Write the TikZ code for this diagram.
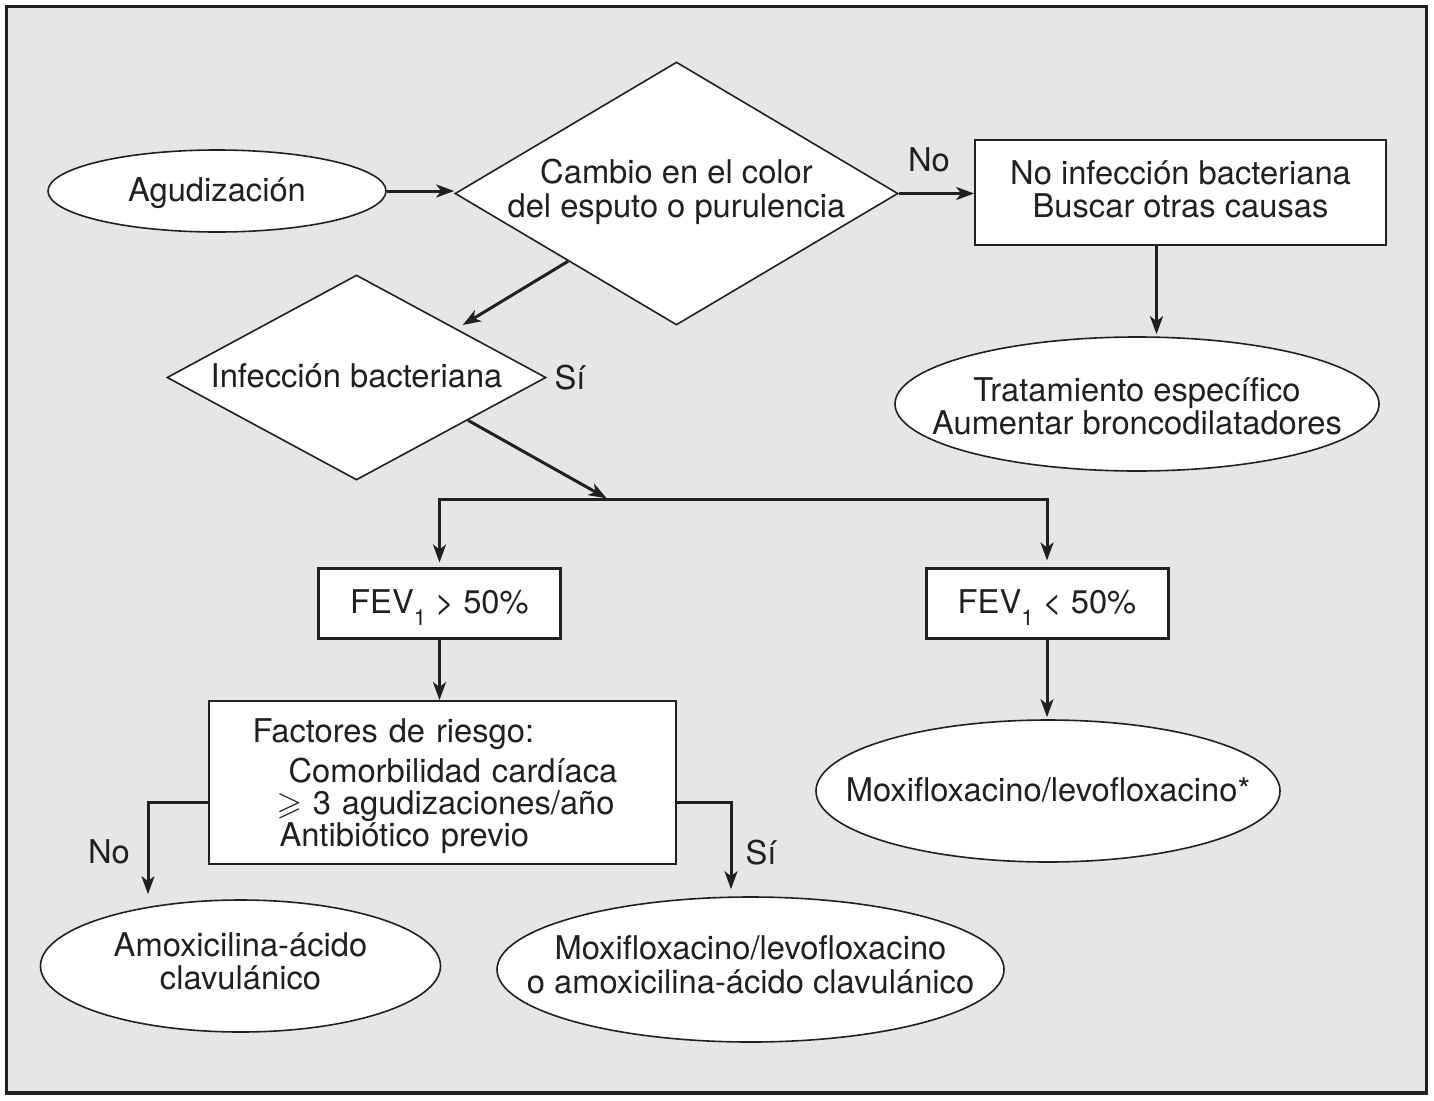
\documentclass[tikz,border=0pt]{standalone}
\usepackage{fontspec}
\setmainfont{TeX Gyre Heros}
\usepackage{amssymb}
\usetikzlibrary{shapes.geometric,arrows.meta}
\definecolor{ink}{HTML}{231F20}
\definecolor{panel}{HTML}{E6E6E6}
\newcommand{\inshape}[2][0pt]{\makebox[0pt]{\raisebox{-#1}[\height][\depth]{\begin{tabular}{@{}c@{}}#2\end{tabular}}}}
\newcommand{\fevsub}{\raisebox{-12pt}[0pt][0pt]{\fontsize{22}{22}\selectfont 1}}

\begin{document}
\begin{tikzpicture}[x=1pt,y=-1pt,font=\fontsize{32.7}{33}\selectfont,text=ink]
        \tikzset{oval/.style={ellipse,draw=ink,line width=1.6pt,fill=white,inner sep=0pt},
          choice/.style={diamond,draw=ink,line width=1.6pt,fill=white,inner sep=0pt},
          box/.style={rectangle,draw=ink,line width=1.8pt,fill=white,align=center},
          fevbox/.style={box,line width=3pt,minimum width=242pt,minimum height=70pt},
          arr/.style={draw=ink,line width=3pt,-{Stealth[length=18pt,width=13pt,inset=5pt]}},
          lbl/.style={inner sep=0pt}}
        \useasboundingbox (0,0) rectangle (1434,1100);
        \draw[ink,line width=3.5pt,fill=panel] (6.5,6.5) rectangle (1426.5,1093);
        % nodes
        \node[oval,minimum width=338pt,minimum height=82pt] (agud) at (217,191) {\inshape[4pt]{Agudización}};
        \node[choice,minimum width=443pt,minimum height=263pt] (cambio) at (676.5,193.5)
          {\inshape{Cambio en el color\\del esputo o purulencia}};
        \node[box,minimum width=411pt,minimum height=105pt] (nobact) at (1180.5,192.5)
          {No infección bacteriana\\Buscar otras causas\rule[-6pt]{0pt}{6pt}};
        \node[oval,minimum width=484pt,minimum height=134pt] (trat) at (1137,404)
          {\inshape[7pt]{Tratamiento específico\\Aumentar broncodilatadores}};
        \node[choice,minimum width=379pt,minimum height=205pt] (infec) at (356.5,377.5)
          {\inshape[3pt]{Infección bacteriana}};
        \node[fevbox] (fevA) at (439.5,603) {FEV\fevsub{} > 50\%};
        \node[fevbox] (fevB) at (1047,603) {FEV\fevsub{} < 50\%};
        \node[box,text width=380pt,inner xsep=43.5pt,minimum height=163pt,align=left,
          font=\fontsize{32.7}{32}\selectfont] (riesgo) at (442.5,782.5)
          {\rule{0pt}{31pt}Factores de riesgo:\\[8pt]
           \hspace*{36pt}Comorbilidad cardíaca\\
           \hspace*{24pt}$\geqslant$ 3 agudizaciones/año\\
           \hspace*{27pt}Antibiótico previo};
        \node[oval,minimum width=400pt,minimum height=132pt] (amox) at (240.5,966)
          {\inshape{Amoxicilina-ácido\\clavulánico}};
        \node[oval,minimum width=507pt,minimum height=145pt] (moxiB) at (750.5,969.5)
          {\inshape{Moxifloxacino/levofloxacino\\o amoxicilina-ácido clavulánico}};
        \node[oval,minimum width=464pt,minimum height=142pt] (moxiA) at (1048,791)
          {\inshape[3pt]{Moxifloxacino/levofloxacino*}};
        % labels
        \node[lbl] (siA) at (570,378) {Sí};
        \node[lbl] (noA) at (929,160) {No};
        \node[lbl] (noB) at (109,852) {No};
        \node[lbl] (siB) at (761,853) {Sí};
        % connectors
        \coordinate (split) at (608,499);
        \draw[arr] (agud.east) -- (agud.east -| cambio.west);
        \draw[arr] (cambio.east) -- (cambio.east -| nobact.west);
        \draw[arr,shorten >=2pt] ([xshift=-24pt]nobact.south) -- ([xshift=-24pt]nobact.south |- trat.north);
        \draw[arr,shorten >=7pt] (cambio.212.6) -- (infec.26);
        \draw[arr,shorten >=1.5pt] (infec.-21) -- (split);
        \draw[arr,shorten >=4pt] (fevB.north |- split) -| (fevA.north);
        \draw[arr,shorten >=6pt] (fevA.north |- split) -| (fevB.north);
        \draw[arr] (fevA.south) -- (fevA.south |- riesgo.north);
        \draw[arr,shorten >=2pt] (fevB.south) -- (fevB.south |- moxiA.north);
        \draw[arr,shorten >=5pt] ([yshift=-19.5pt]riesgo.west) -| ([xshift=-92.5pt]amox.north);
        \draw[arr,shorten >=7pt] ([yshift=-19.5pt]riesgo.east) -| ([xshift=-19.5pt]moxiB.north);
      \end{tikzpicture}
\end{document}
